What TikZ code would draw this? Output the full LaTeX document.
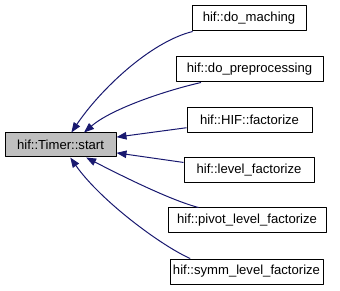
\documentclass[tikz,border=0pt]{standalone}
\usepackage{fontspec}
\setmainfont{Liberation Sans}
\usetikzlibrary{arrows.meta}
\definecolor{midnightblue}{RGB}{25,25,112}
\begin{document}
\begin{tikzpicture}[x=1pt,y=-1pt, font=\fontsize{13.1}{16}\selectfont, line join=round]
	\tikzset{fnbox/.style={draw=black, line width=1pt, minimum height=25pt, inner sep=0pt},
	callee/.style={fnbox, fill=black!25},
	call/.style={draw=midnightblue, line width=1pt, {Triangle[length=10pt,width=7.5pt]}-}}
	\useasboundingbox (0,0) rectangle (340,291);
	\node[callee, minimum width=111pt, minimum height=24pt] (start) at (60.5,145) {hif::Timer::start};
	% callers, one per row
	\node[fnbox, minimum width=114pt] (maching) at (249,18.5) {hif::do\_maching};
	\node[fnbox, minimum width=147pt] (preproc) at (249.5,69.5) {hif::do\_preprocessing};
	\node[fnbox, minimum width=125pt] (hiffact) at (249.5,120) {hif::HIF::factorize};
	\node[fnbox, minimum width=130pt] (levelfact) at (249,170.5) {hif::level\_factorize};
	\node[fnbox, minimum width=158pt] (pivotfact) at (247,220.5) {hif::pivot\_level\_factorize};
	\node[fnbox, minimum width=153pt] (symmfact) at (246.5,271.5) {hif::symm\_level\_factorize};
	%
	\draw[call] (start.49) .. controls (100,90) and (150,42) .. (maching.193);
	\draw[call] (start.28) .. controls (110,110) and (160,92) .. (preproc.195);
	\draw[call] (start.8) -- (hiffact.187);
	\draw[call] (start.-8) -- (levelfact.173);
	\draw[call] (start.-26) .. controls (120,175) and (170,200) .. (pivotfact.165);
	\draw[call] (start.-52) .. controls (100,200) and (160,245) .. (symmfact.167);
\end{tikzpicture}
\end{document}
